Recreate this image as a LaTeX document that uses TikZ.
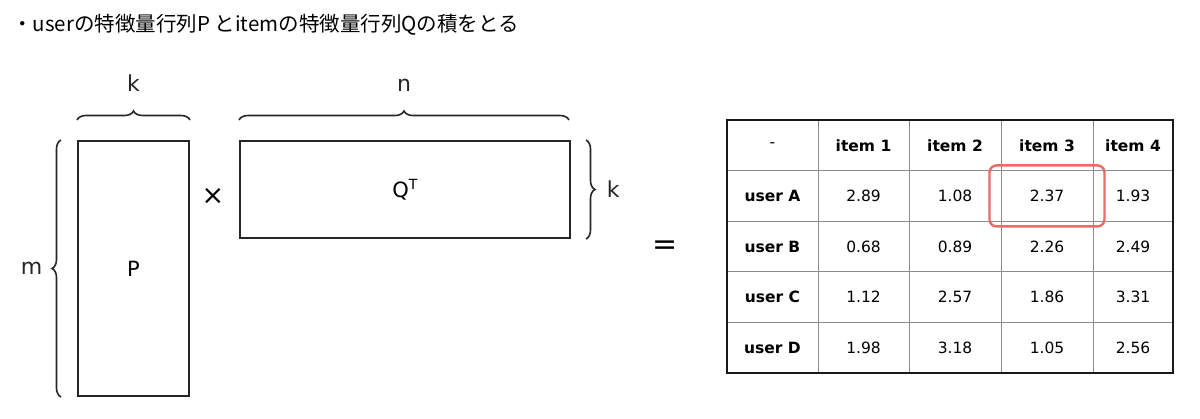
\documentclass[tikz,border=0pt]{standalone}
\usepackage{fontspec}
\setmainfont{DejaVu Sans}
\newfontfamily\jpfont{Noto Sans CJK JP}
\usepackage{xcolor}
\usepackage{tikz}
\usetikzlibrary{arrows.meta,positioning,calc,decorations.pathreplacing}
\definecolor{hlred}{RGB}{234,108,104}
\tikzset{
  mat/.style   ={rectangle,draw=black!85,line width=2pt,inner sep=0pt,font=\fontsize{21}{23}\selectfont},
  lbl/.style   ={inner sep=0pt,font=\fontsize{22}{24}\selectfont},
  brc/.style   ={decorate,decoration={brace,amplitude=9pt},line width=1.6pt,black!85},
  cell/.style  ={rectangle,draw=black!45,line width=0.9pt,inner sep=0pt,minimum height=50.6pt,font=\fontsize{15.5}{17}\selectfont},
  hcell/.style ={cell,font=\fontsize{15.5}{17}\selectfont\bfseries},
  pick/.style  ={rectangle,rounded corners=7pt,draw=hlred,line width=2.4pt,minimum width=115pt,minimum height=61pt},
}

\begin{document}
\begin{tikzpicture}[x=1pt,y=-1pt]
  \useasboundingbox (0,0) rectangle (1200,418);
  \node[anchor=west,inner sep=0pt,font=\jpfont\fontsize{20.5}{22}\selectfont] (title) at (12,25)
     {・userの特徴量行列P とitemの特徴量行列Qの積をとる};
  % the two factors
  \node[mat,minimum width=111pt,minimum height=255pt] (P) at (133.5,268.5) {P};
  \node[mat,minimum width=330pt,minimum height=97pt] (Q) at (405,189.5) {Q\raisebox{8pt}{\fontsize{14}{14}\selectfont T}};
  \node[lbl,font=\fontsize{27}{27}\selectfont] (times) at (213,196) {×};
  \node[lbl,font=\fontsize{30}{30}\selectfont] (eq) at (665,248) {=};
  % sizes
  \draw[brc] ([yshift=20pt]P.north west) -- ([yshift=20pt]P.north east)
     node[lbl,midway,above=28pt] (kP) {k};
  \draw[brc] ([yshift=20pt]Q.north west) -- ([yshift=20pt,xshift=-2pt]Q.north east)
     node[lbl,midway,above=28pt] (nQ) {n};
  \draw[brc] ([xshift=15pt]Q.north east) -- ([xshift=15pt]Q.south east)
     node[lbl,midway,right=20pt] (kQ) {k};
  \draw[brc] ([xshift=-16pt]P.south west) -- ([xshift=-16pt]P.north west)
     node[lbl,midway,left=18pt] (mP) {m};
  % result table
  \foreach \r/\y/\lab/\a/\b/\c/\d in {0/145.3/-/item 1/item 2/item 3/item 4,
                                      1/195.9/user A/2.89/1.08/2.37/1.93,
                                      2/246.5/user B/0.68/0.89/2.26/2.49,
                                      3/297.1/user C/1.12/2.57/1.86/3.31,
                                      4/347.7/user D/1.98/3.18/1.05/2.56}{
     \ifnum\r=0
       \node[cell,minimum width=91pt] (c\r0) at (772.5,\y) {\lab};
       \foreach \v/\x/\w/\j in {\a/863.5/91/1,\b/955/92/2,\c/1047/92/3,\d/1133/80/4}
         \node[hcell,minimum width=\w pt] (c\r\j) at (\x,\y) {\v};
     \else
       \node[hcell,minimum width=91pt] (c\r0) at (772.5,\y) {\lab};
       \foreach \v/\x/\w/\j in {\a/863.5/91/1,\b/955/92/2,\c/1047/92/3,\d/1133/80/4}
         \node[cell,minimum width=\w pt] (c\r\j) at (\x,\y) {\v};
     \fi
  }
  \draw[line width=2pt,black!90] (c00.north west) rectangle (c44.south east);
  \node[pick] (hl) at (c13) {};
\end{tikzpicture}
\end{document}
